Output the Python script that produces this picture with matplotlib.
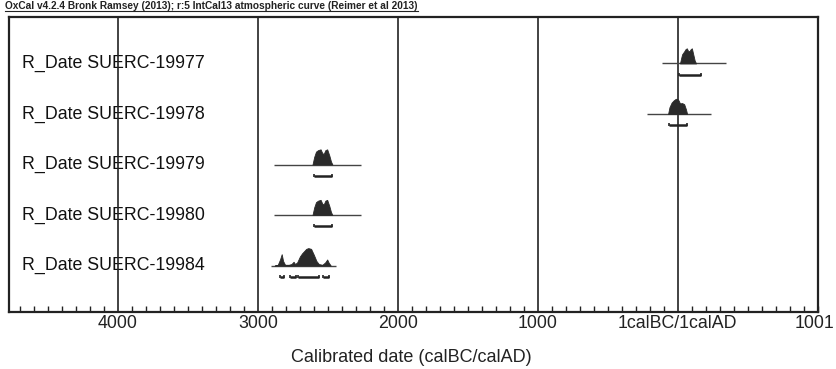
import matplotlib
matplotlib.use("Agg")
import matplotlib.pyplot as plt
from matplotlib.lines import Line2D
from matplotlib.transforms import blended_transform_factory, ScaledTranslation

plt.rcParams['font.family'] = ['Liberation Sans', 'DejaVu Sans']

# ---------------- data ----------------
labels = ["R_Date SUERC-19977", "R_Date SUERC-19978", "R_Date SUERC-19979",
          "R_Date SUERC-19980", "R_Date SUERC-19984"]

# likelihood spread (years, negative = BC)
spread_start = [-114, -221, -2886, -2886, -2907]
spread_end = [343, 236, -2264, -2264, -2443]

# posterior probability outlines (year, relative height)
dist_years = [
    [15, 22, 30, 45, 55, 64, 72, 82, 92, 100, 110, 120, 130],
    [-70, -60, -45, -30, -15, -5, 5, 15, 30, 45, 58, 66],
    [-2610, -2598, -2585, -2570, -2552, -2540, -2530, -2518, -2505, -2490, -2478, -2468],
    [-2610, -2598, -2585, -2570, -2552, -2540, -2530, -2518, -2505, -2490, -2478, -2468],
    [-2880, -2858, -2842, -2830, -2820, -2806, -2780, -2760, -2745, -2735, -2720, -2700,
     -2685, -2670, -2655, -2640, -2620, -2600, -2582, -2565, -2540, -2520, -2505, -2495, -2480],
]
dist_heights = [
    [0, 0.3, 0.6, 0.8, 0.95, 1.0, 0.85, 0.8, 0.95, 1.0, 0.6, 0.2, 0],
    [0, 0.45, 0.75, 0.9, 1.0, 1.0, 0.9, 0.7, 0.72, 0.65, 0.3, 0],
    [0, 0.5, 0.85, 0.95, 1.0, 0.75, 0.7, 0.95, 1.0, 0.6, 0.2, 0],
    [0, 0.5, 0.85, 0.95, 1.0, 0.75, 0.7, 0.95, 1.0, 0.6, 0.2, 0],
    [0, 0.05, 0.4, 0.75, 0.3, 0.05, 0.05, 0.1, 0.25, 0.1, 0.2, 0.6,
     0.8, 0.95, 1.1, 1.15, 1.1, 0.7, 0.3, 0.1, 0.05, 0.2, 0.4, 0.2, 0],
]

# highest probability ranges (start, end)
ranges = [
    [(7, 164)],
    [(-64, 64)],
    [(-2600, -2471)],
    [(-2600, -2471)],
    [(-2843, -2814), (-2771, -2729), (-2714, -2564), (-2536, -2493)],
]

tick_values = [-4000, -3000, -2000, -1000, 0, 1001]
tick_labels = ["4000", "3000", "2000", "1000", "1calBC/1calAD", "1001"]

header = "OxCal v4.2.4 Bronk Ramsey (2013); r:5 IntCal13 atmospheric curve (Reimer et al 2013)"
xlabel = "Calibrated date (calBC/calAD)"

# ---------------- figure ----------------
W, H = 836, 369
fig = plt.figure(figsize=(W / 100, H / 100), dpi=100)
fig.patch.set_facecolor("white")
ax = fig.add_axes([9 / W, 1 - 312 / H, 809 / W, 295 / H])
ax.set_xlim(-4778, 1001)
ax.set_ylim(5.92, 0.08)

scale = 0.30
dark = "#2a2a2a"
for i, lab in enumerate(labels):
    y0 = i + 1
    ax.hlines(y0, spread_start[i], spread_end[i], color="#444444", lw=1.0, zorder=3)
    tops = [y0 - h * scale for h in dist_heights[i]]
    ax.fill_between(dist_years[i], y0, tops, color=dark, lw=0.6, edgecolor=dark, zorder=4)
    for (a, b) in ranges[i]:
        yb = y0 + 0.22
        ax.hlines(yb, a, b, color="#222222", lw=1.8, zorder=4)
        ax.vlines([a, b], yb - 0.04, yb + 0.02, color="#222222", lw=1.2, zorder=4)

trans = blended_transform_factory(ax.transAxes, ax.transData)
for i, lab in enumerate(labels):
    ax.text(13 / 809, i + 1, lab, transform=trans, fontsize=12.8, va="center",
            ha="left", color="#111111", zorder=1)

for v in tick_values[:-1]:
    ax.axvline(v, color="#222222", lw=1.2, zorder=2)

ax.set_xticks(tick_values)
ax.set_xticklabels(tick_labels, fontsize=12.8, color="#222222")
ax.set_xticks(list(range(-4700, 1001, 100)), minor=True)
ax.tick_params(axis="x", which="major", length=0, pad=2)
ax.tick_params(axis="x", which="minor", direction="in", length=4, width=1, color="#222222")
ax.set_yticks([])
last = ax.get_xticklabels()[-1]
last.set_transform(last.get_transform() + ScaledTranslation(-3 / 100, 0, fig.dpi_scale_trans))
for s in ax.spines.values():
    s.set_linewidth(1.6)
    s.set_color("#222222")

fig.text(411 / W, 1 - 357 / H, xlabel, fontsize=13, ha="center", va="center",
         color="#222222")

fig.text(5 / W, 1 - 6 / H, header, fontsize=7.3, ha="left", va="center", color="#222222",
         fontweight="bold")
fig.add_artist(Line2D([5 / W, 418 / W], [1 - 11 / H, 1 - 11 / H], color="#222222", lw=0.8))

fig.savefig("out.png", dpi=100)
